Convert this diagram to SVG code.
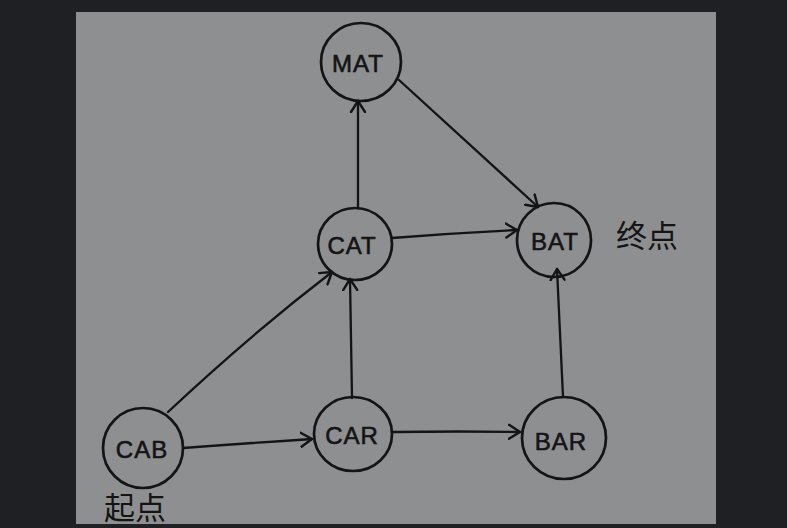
<svg xmlns="http://www.w3.org/2000/svg" width="787" height="528" viewBox="0 0 787 528">
  <defs>
    <marker id="arr" markerUnits="userSpaceOnUse" markerWidth="24" markerHeight="24" viewBox="-12 -12 24 24" refX="0" refY="0" orient="auto">
      <path d="M-11,-7 L0,0 L-11,7" fill="none" stroke="#141414" stroke-width="2.4" stroke-linecap="round" stroke-linejoin="round"/>
    </marker>
  </defs>
  <style>
    .node ellipse { fill: none; stroke: #141414; stroke-width: 2.7; }
    .lbl { font-family: "Liberation Sans", "DejaVu Sans", sans-serif; font-size: 24px; fill: #141414; stroke: #141414; stroke-width: 0.6; text-anchor: middle; letter-spacing: 1px; }
    .cjk { font-family: "Liberation Serif", "Noto Sans CJK SC", sans-serif; font-size: 31px; fill: #141414; }
    .edge { fill: none; stroke: #141414; stroke-width: 2.3; stroke-linecap: round; marker-end: url(#arr); }
  </style>
  <rect width="787" height="528" fill="#1f2023"/>
  <rect x="76" y="12" width="640" height="512" fill="#8e8f91"/>
  <g id="connectors">
    <path class="edge" d="M168,412 Q250,335 332,272"/>
    <path class="edge" d="M183,448 Q250,443 312,439"/>
    <path class="edge" d="M352,398 L350,279"/>
    <path class="edge" d="M392,432 Q460,431 520,432"/>
    <path class="edge" d="M563,397 L557,269"/>
    <path class="edge" d="M358,208 L358,101"/>
    <path class="edge" d="M392,238 Q455,233 517,230"/>
    <path class="edge" d="M399,80 L538,207"/>
  </g>
  <g id="MAT" class="node">
    <ellipse cx="361" cy="62" rx="40" ry="39"/>
    <text class="lbl" x="358" y="72">MAT</text>
  </g>
  <g id="CAT" class="node">
    <ellipse cx="355" cy="244" rx="37" ry="36"/>
    <text class="lbl" x="352" y="254">CAT</text>
  </g>
  <g id="BAT" class="node">
    <ellipse cx="554" cy="240" rx="37" ry="37"/>
    <text class="lbl" x="555" y="250">BAT</text>
  </g>
  <g id="CAB" class="node">
    <ellipse cx="143" cy="448" rx="40" ry="40"/>
    <text class="lbl" x="142" y="458">CAB</text>
  </g>
  <g id="CAR" class="node">
    <ellipse cx="353" cy="434" rx="39" ry="37"/>
    <text class="lbl" x="352" y="444">CAR</text>
  </g>
  <g id="BAR" class="node">
    <ellipse cx="564" cy="438" rx="42" ry="41"/>
    <text class="lbl" x="561" y="450">BAR</text>
  </g>
  <g id="end-label">
    <text class="cjk" x="616" y="247">终点</text>
  </g>
  <g id="start-label">
    <text class="cjk" x="104" y="519" font-size="30">起点</text>
  </g>
</svg>
